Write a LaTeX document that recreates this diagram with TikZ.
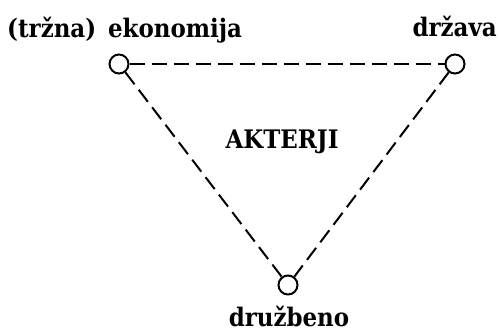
\documentclass[tikz,border=0pt]{standalone}
\usepackage{fontspec}
\setmainfont{DejaVu Serif Condensed}
\begin{document}
\begin{tikzpicture}[x=1pt,y=-1pt,
  vert/.style={circle,draw,line width=2pt,minimum size=19pt,inner sep=0pt},
  edge/.style={line width=2pt,dash pattern=on 15pt off 7pt},
  lab/.style={font=\fontsize{25.5}{30}\selectfont\bfseries,inner sep=0pt}]
\useasboundingbox (0,0) rectangle (500,332);
\node[vert] (e) at (119,64) {};
\node[vert] (d) at (455,64) {};
\node[vert] (s) at (288,285) {};
\draw[edge] (e) -- (d);
\draw[edge] (e) -- (s);
\draw[edge] (d) -- (s);
\node[lab,anchor=base west] (le) at (7,37) {(tržna)\hspace{4pt} ekonomija};
\node[lab,anchor=base east] (ld) at (497,36) {država};
\node[lab,anchor=base] (lm) at (282,148) {AKTERJI};
\node[lab,anchor=base] (ls) at (289,326) {družbeno};
\end{tikzpicture}
\end{document}
